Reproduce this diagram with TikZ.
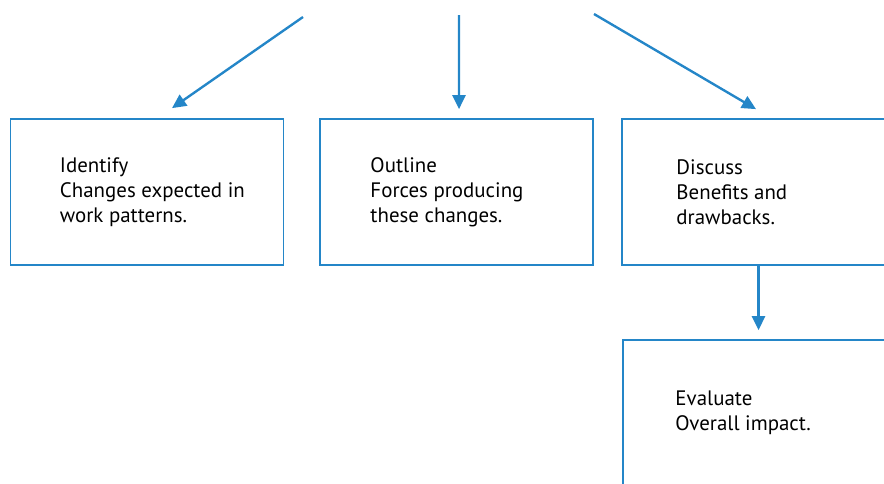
\documentclass[tikz,border=0pt]{standalone}
\usepackage{fontspec}
\setmainfont{PT Sans}
\usetikzlibrary{arrows.meta,positioning}
\definecolor{flowblue}{RGB}{36,134,200}
\tikzset{
	stagebox/.style={draw=flowblue, line width=1pt, rectangle, minimum width=5.46cm, minimum height=2.92cm, inner sep=0pt},
	stagetext/.style={anchor=west, align=left, inner sep=0pt, font=\fontsize{11.9}{14.2}\selectfont},
	flowarrow/.style={draw=flowblue, line width=1.35pt, -{Triangle[length=8pt,width=7.5pt]}}
}

\begin{document}
\begin{tikzpicture}
		%%%%% START %%%%%
		\useasboundingbox (0, 0) rectangle (17.68, -9.66);
		\clip (0, 0) rectangle (17.68, -9.66);
		
		% where the three top arrows come from
		\coordinate (srcl) at (6.06, -0.34);
		\coordinate (srcm) at (9.18, -0.30);
		\coordinate (srcr) at (11.88, -0.28);
		
		\node[stagebox] (identify) at (2.94, -3.84) {};
		\node[stagebox] (outline) at (9.13, -3.84) {};
		\node[stagebox] (discuss) at (15.17, -3.84) {};
		\node[stagebox] (evaluate) at (15.19, -8.26) {};
		
		\node[stagetext, right=1.0cm of identify.west] (identifytxt) {Identify\\Changes expected in\\work patterns.};
		\node[stagetext, right=1.02cm of outline.west] (outlinetxt) {Outline\\Forces producing\\these changes.};
		\node[stagetext, right=1.1cm of discuss.west] (discusstxt) {Discuss\\Benefits and\\drawbacks.};
		\node[stagetext, right=1.06cm of evaluate.west] (evaluatetxt) {Evaluate\\Overall impact.};
		
		\draw[flowarrow] (srcl) -- ([shift={(0.5, 0.2)}]identify.north);
		\draw[flowarrow] (srcm) -- ([shift={(0.05, 0.18)}]outline.north);
		\draw[flowarrow] (srcr) -- ([shift={(-0.05, 0.18)}]discuss.north);
		\draw[flowarrow] (discuss.south) -- ([yshift=0.18cm]evaluate.north -| discuss.south);
		
		%%%%% END %%%%%
	\end{tikzpicture}
\end{document}
